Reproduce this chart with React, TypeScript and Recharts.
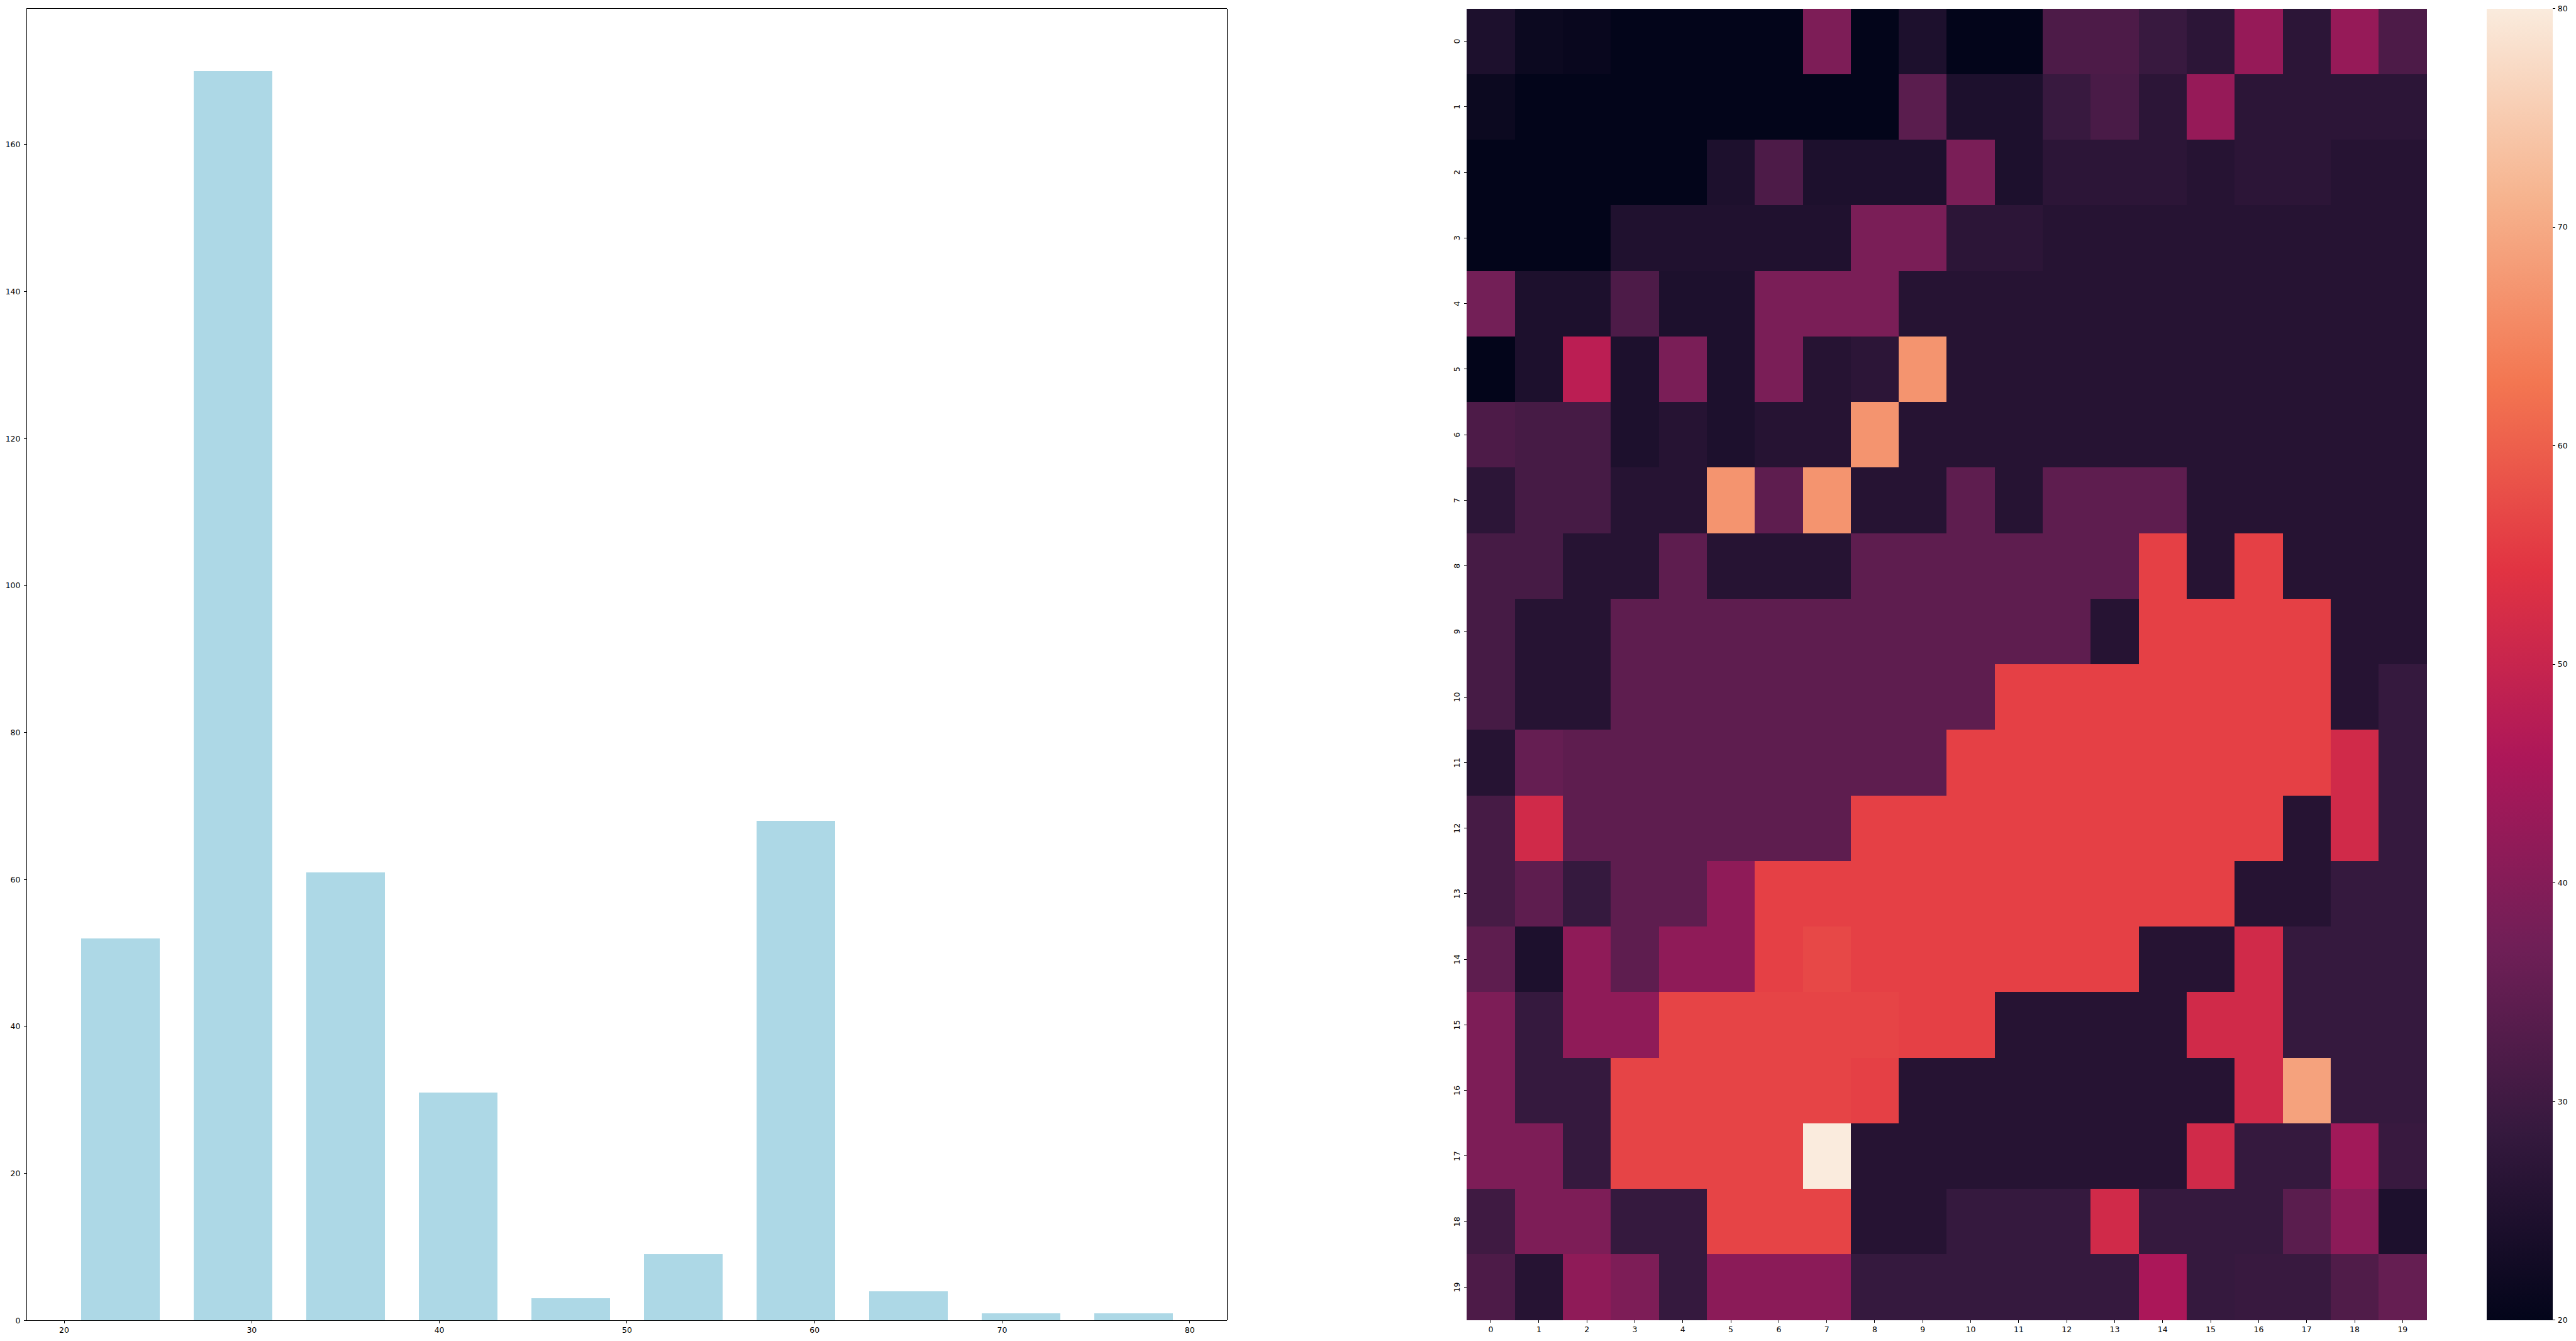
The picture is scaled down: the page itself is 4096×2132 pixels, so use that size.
import { BarChart, Bar, XAxis, YAxis, Cell, ReferenceArea } from 'recharts';

// age histogram (bins of 6 years, drawn at 0.7 of the bin width)
const binCenters = [23, 29, 35, 41, 47, 53, 59, 65, 71, 77];
const binCounts = [52, 170, 61, 31, 3, 9, 68, 4, 1, 1];
const ageTicks = [20, 30, 40, 50, 60, 70, 80];
const countTicks = [0, 20, 40, 60, 80, 100, 120, 140, 160];
const AGE_DOMAIN = [18, 82];
const COUNT_DOMAIN = [0, 178.5];

// heatmap values, one array per row (top to bottom)
const row0 = [24.5, 21.5, 21, 20, 20, 20, 20, 39, 20, 24.5, 20, 20, 32, 32, 29, 27, 42.5, 27, 42.5, 32];
const row1 = [21.5, 20, 20, 20, 20, 20, 20, 20, 20, 34, 24.5, 24.5, 29, 31.5, 27, 42.5, 27, 27, 27, 27];
const row2 = [20, 20, 20, 20, 20, 24.5, 32, 24.5, 24.5, 24.5, 38.5, 24.5, 27, 27, 27, 26, 27, 27, 26, 26];
const row3 = [20, 20, 20, 25, 25, 25, 25, 25, 38.5, 38.5, 27, 27, 26, 26, 26, 26, 26, 26, 26, 26];
const row4 = [37.5, 24.5, 24.5, 32, 24.5, 24.5, 38.5, 38.5, 38.5, 26, 26, 26, 26, 26, 26, 26, 26, 26, 26, 26];
const row5 = [20, 24.5, 48, 24.5, 38.5, 24.5, 38.5, 26, 27, 67, 26, 26, 26, 26, 26, 26, 26, 26, 26, 26];
const row6 = [32, 31, 31, 24.5, 26, 24.5, 26, 26, 67, 26, 26, 26, 26, 26, 26, 26, 26, 26, 26, 26];
const row7 = [27, 31, 31, 26, 26, 67, 34.5, 67, 26, 26, 34.5, 26, 34.5, 34.5, 34.5, 26, 26, 26, 26, 26];
const row8 = [31, 31, 26, 26, 34.5, 26, 26, 26, 34.5, 34.5, 34.5, 34.5, 34.5, 34.5, 56, 26, 56, 26, 26, 26];
const row9 = [31, 26, 26, 34.5, 34.5, 34.5, 34.5, 34.5, 34.5, 34.5, 34.5, 34.5, 34.5, 26, 56, 56, 56, 56, 26, 26];
const row10 = [31, 26, 26, 34.5, 34.5, 34.5, 34.5, 34.5, 34.5, 34.5, 34.5, 56, 56, 56, 56, 56, 56, 56, 26, 28.5];
const row11 = [26, 35.5, 34.5, 34.5, 34.5, 34.5, 34.5, 34.5, 34.5, 34.5, 56, 56, 56, 56, 56, 56, 56, 56, 51.5, 28.5];
const row12 = [31, 51.5, 34.5, 34.5, 34.5, 34.5, 34.5, 34.5, 56, 56, 56, 56, 56, 56, 56, 56, 56, 26, 51.5, 28.5];
const row13 = [31, 34.5, 28.5, 34.5, 34.5, 41.5, 56, 56, 56, 56, 56, 56, 56, 56, 56, 56, 26, 26, 28.5, 28.5];
const row14 = [34.5, 24.5, 41.5, 34.5, 41.5, 41.5, 56, 57, 56, 56, 56, 56, 56, 56, 26, 26, 51.5, 28.5, 28.5, 28.5];
const row15 = [39, 28.5, 41.5, 41.5, 56.5, 56.5, 56.5, 56.5, 56.5, 56, 56, 26, 26, 26, 26, 51.5, 51.5, 28.5, 28.5, 28.5];
const row16 = [39, 28.5, 28.5, 56.5, 56.5, 56.5, 56.5, 56.5, 56, 26, 26, 26, 26, 26, 26, 26, 51.5, 69, 28.5, 28.5];
const row17 = [39, 39, 28.5, 56.5, 56.5, 56.5, 56.5, 80, 26, 26, 26, 26, 26, 26, 26, 51.5, 28.5, 28.5, 44, 29];
const row18 = [30, 39, 39, 28.5, 28.5, 56.5, 56.5, 56.5, 26, 26, 28.5, 28.5, 28.5, 51.5, 28.5, 28.5, 28.5, 34, 41, 24.5];
const row19 = [32, 26, 41.5, 39, 28.5, 41, 41, 41, 28.5, 28.5, 28.5, 28.5, 28.5, 28.5, 45.5, 28.5, 29, 29, 32.5, 35.5];
const heatRows = [row0, row1, row2, row3, row4, row5, row6, row7, row8, row9,
  row10, row11, row12, row13, row14, row15, row16, row17, row18, row19];
const cellLabels = ['0', '1', '2', '3', '4', '5', '6', '7', '8', '9',
  '10', '11', '12', '13', '14', '15', '16', '17', '18', '19'];
const colorbarTicks = [20, 30, 40, 50, 60, 70, 80];
const V_MIN = 20;
const V_MAX = 80;

// seaborn "rocket", sampled at 0, 1/7 ... 1
const ROCKET = ['#03051a', '#35193e', '#701f57', '#ad1759', '#e13342', '#f37651', '#f6b48f', '#faebdd'];

function hexToRgb(h: string) {
  return [1, 3, 5].map((i) => parseInt(h.slice(i, i + 2), 16));
}

function rocket(v: number) {
  const t = Math.min(1, Math.max(0, (v - V_MIN) / (V_MAX - V_MIN)));
  const pos = t * (ROCKET.length - 1);
  const i = Math.min(ROCKET.length - 2, Math.floor(pos));
  const f = pos - i;
  const a = hexToRgb(ROCKET[i]);
  const b = hexToRgb(ROCKET[i + 1]);
  const c = a.map((x, k) => Math.round(x + (b[k] - x) * f));
  return `rgb(${c[0]},${c[1]},${c[2]})`;
}

const FONT = 12.5;
const TICK = 4.4;
const tickStyle = { fill: '#000', fontSize: FONT };
const black = { stroke: '#000', strokeWidth: 1 };

const histData = binCenters.map((age, i) => ({ age, count: binCounts[i] }));

// one column object per heatmap column, every row stacked with unit height
const heatData = cellLabels.map((col) => {
  const o: Record<string, any> = { col };
  heatRows.forEach((_, r) => { o[`r${r}`] = 1; });
  return o;
});
const rowTicks = cellLabels.map((_, i) => i + 0.5);

function RowTick({ x, y, payload }: any) {
  const cx = x - 7.4;
  return (
    <text x={cx} y={y} transform={`rotate(-90 ${cx} ${y})`} textAnchor="middle"
      dominantBaseline="central" fontSize={FONT} fill="#000">
      {cellLabels[Math.floor(payload.value)]}
    </text>
  );
}

// recharts floors the band width to whole pixels; widen each cell a little so columns meet.
// the y axis is reversed, so heights arrive negative.
function HeatCell({ x, y, width, height, fill }: any) {
  const top = Math.min(y, y + height);
  return <rect x={x} y={top} width={Math.abs(width) + 1} height={Math.abs(height)} fill={fill} />;
}

const cbData = [{ name: 'cb', range: [V_MIN, V_MAX] }];

export default function App() {
  return (
    <div style={{ position: 'absolute', left: 0, top: 0, width: 4096, height: 2132, background: '#fff',
      overflow: 'hidden', fontFamily: '"DejaVu Sans", sans-serif', shapeRendering: 'crispEdges' }}>
      {/* histogram */}
      <div style={{ position: 'absolute', left: 0, top: 0 }}>
        <BarChart width={1971.4} height={2132} data={histData}
          margin={{ top: 13.5, right: 20, bottom: 0, left: 0 }}>
          <XAxis dataKey="age" type="number" domain={AGE_DOMAIN} ticks={ageTicks} height={32.5}
            tick={tickStyle} tickLine={black} axisLine={black} tickSize={TICK} tickMargin={6} />
          <YAxis type="number" domain={COUNT_DOMAIN} ticks={countTicks} width={42.4}
            tick={tickStyle} tickLine={black} axisLine={black} tickSize={TICK} tickMargin={5.5} />
          <Bar dataKey="count" fill="#add8e6" barSize={125.3} isAnimationActive={false} />
          <ReferenceArea x1={AGE_DOMAIN[0]} x2={AGE_DOMAIN[1]} y1={COUNT_DOMAIN[0]} y2={COUNT_DOMAIN[1]}
            fill="none" fillOpacity={0} stroke="#000" strokeWidth={1} strokeOpacity={1} />
        </BarChart>
      </div>

      {/* heatmap */}
      <div style={{ position: 'absolute', left: 2280, top: 0 }}>
        <BarChart width={1600} height={2132} data={heatData} barCategoryGap={0} barGap={0}
          margin={{ top: 13.5, right: 21.5, bottom: 0, left: 0 }}>
          <XAxis dataKey="col" type="category" interval={0} height={33.4}
            tick={tickStyle} tickLine={black} axisLine={false} tickSize={TICK} tickMargin={6.6} />
          <YAxis type="number" domain={[0, 20]} reversed ticks={rowTicks} width={52.4}
            tick={<RowTick />} tickLine={black} axisLine={false} tickSize={TICK} tickMargin={4.4} />
          {heatRows.map((row, r) => (
            <Bar key={r} dataKey={`r${r}`} stackId="h" isAnimationActive={false} shape={<HeatCell />}>
              {row.map((v, c) => (
                <Cell key={c} fill={rocket(v)} />
              ))}
            </Bar>
          ))}
        </BarChart>
      </div>

      {/* colorbar */}
      <div style={{ position: 'absolute', left: 3940, top: 0 }}>
        <BarChart width={156} height={2132} data={cbData} barCategoryGap={0}
          margin={{ top: 13.5, right: 0, bottom: 33.4, left: 14.2 }}>
          <defs>
            <linearGradient id="rocketGrad" x1="0" y1="0" x2="0" y2="1">
              {ROCKET.map((_, k) => {
                const i = ROCKET.length - 1 - k;
                return <stop key={k} offset={k / (ROCKET.length - 1)} stopColor={ROCKET[i]} />;
              })}
            </linearGradient>
          </defs>
          <XAxis dataKey="name" type="category" hide />
          <YAxis orientation="right" type="number" domain={[V_MIN, V_MAX]} ticks={colorbarTicks} width={37.1}
            tick={tickStyle} tickLine={black} axisLine={false} tickSize={TICK} tickMargin={3.5} />
          <Bar dataKey="range" fill="url(#rocketGrad)" isAnimationActive={false} />
        </BarChart>
      </div>
    </div>
  );
}
